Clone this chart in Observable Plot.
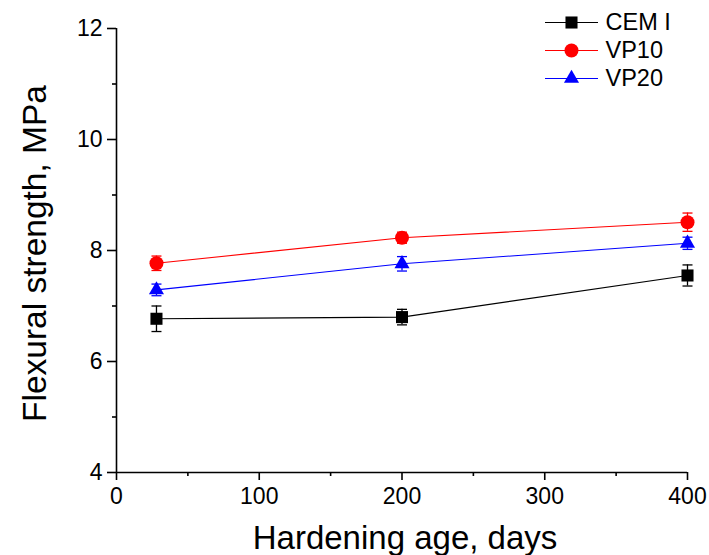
<!DOCTYPE html>
<html>
<head>
<meta charset="utf-8">
<script src="https://cdn.jsdelivr.net/npm/d3@7"></script>
<script src="https://cdn.jsdelivr.net/npm/@observablehq/plot@0.6"></script>
<style>
  html, body { margin: 0; padding: 0; background: #fff; }
  #chart svg { display: block; }
</style>
</head>
<body>
<div id="chart"></div>
<script>
// Hardening age (days) at which flexural strength was measured
const ages = [28, 200, 400];

// Mean flexural strength (MPa) and standard deviation per mix
const seriesNames = ["CEM I", "VP10", "VP20"];
const cemI = [6.77, 6.80, 7.55];
const cemIErr = [0.23, 0.14, 0.19];
const vp10 = [7.77, 8.23, 8.51];
const vp10Err = [0.13, 0.10, 0.165];
const vp20 = [7.29, 7.76, 8.13];
const vp20Err = [0.105, 0.13, 0.11];

// Axis ticks
const xTicks = [0, 100, 200, 300, 400];
const xMinor = [50, 150, 250, 350];
const yTicks = [4, 6, 8, 10, 12];
const yMinor = [5, 7, 9, 11];

const styles = [
  {color: "#000000", symbol: "square", r: 6.8},
  {color: "#ff0000", symbol: "circle", r: 7},
  {color: "#0000ff", symbol: "triangle", r: 5.6}
];

const values = [cemI, vp10, vp20];
const errors = [cemIErr, vp10Err, vp20Err];
const rows = seriesNames.flatMap((name, i) =>
  ages.map((age, j) => ({series: name, i, age, y: values[i][j], err: errors[i][j]}))
);

// Horizontal stroke used for error-bar caps and legend lines
const hline = (half) => ({draw(ctx) { ctx.moveTo(-half, 0); ctx.lineTo(half, 0); }});

const marks = [];

// axes
marks.push(Plot.ruleX([0], {strokeWidth: 1.6}));
marks.push(Plot.ruleY([4], {strokeWidth: 1.6}));
marks.push(Plot.axisX({ticks: xTicks, tickSize: 8, tickPadding: 7, fontSize: 23, label: null, strokeWidth: 1.6}));
marks.push(Plot.axisX({ticks: xMinor, tickSize: 4, tickFormat: () => "", label: null, strokeWidth: 1.6}));
marks.push(Plot.axisY({ticks: yTicks, tickSize: 9, tickPadding: 5, fontSize: 23, label: null, strokeWidth: 1.6}));
marks.push(Plot.axisY({ticks: yMinor, tickSize: 4, tickFormat: () => "", label: null, strokeWidth: 1.6}));

// axis titles
marks.push(Plot.text(["Flexural strength, MPa"], {
  frameAnchor: "left", rotate: -90, dx: -81, dy: 3, fontSize: 33.5, fill: "#000",
  textAnchor: "middle", lineAnchor: "middle"
}));
marks.push(Plot.text(["Hardening age, days"], {
  frameAnchor: "bottom", dx: 3, dy: 66, fontSize: 33, fill: "#000",
  textAnchor: "middle", lineAnchor: "middle"
}));

seriesNames.forEach((name, i) => {
  const data = rows.filter(d => d.series === name);
  const st = styles[i];
  marks.push(Plot.line(data, {x: "age", y: "y", stroke: st.color, strokeWidth: 1.1}));
  marks.push(Plot.ruleX(data, {x: "age", y1: d => d.y - d.err, y2: d => d.y + d.err, stroke: st.color, strokeWidth: 1.3}));
  marks.push(Plot.dot(data, {x: "age", y: d => d.y - d.err, symbol: hline(5), stroke: st.color, strokeWidth: 1.3, fill: "none"}));
  marks.push(Plot.dot(data, {x: "age", y: d => d.y + d.err, symbol: hline(5), stroke: st.color, strokeWidth: 1.3, fill: "none"}));
  marks.push(Plot.dot(data, {x: "age", y: "y", symbol: st.symbol, r: st.r, fill: st.color, stroke: "none"}));

  // legend entry
  const dy = -6 + i * 28;
  marks.push(Plot.dot([name], {frameAnchor: "top-right", dx: -116, dy, symbol: hline(26.5), stroke: st.color, strokeWidth: 1.1, fill: "none"}));
  marks.push(Plot.dot([name], {frameAnchor: "top-right", dx: -116, dy, symbol: st.symbol, r: st.r, fill: st.color, stroke: "none"}));
  marks.push(Plot.text([name], {frameAnchor: "top-right", dx: -82, dy, text: d => d, textAnchor: "start", lineAnchor: "middle", fontSize: 23.5, fill: "#000"}));
});

const chart = Plot.plot({
  width: 709,
  height: 555,
  marginLeft: 116,
  marginRight: 22,
  marginTop: 28,
  marginBottom: 83,
  x: {domain: [0, 400]},
  y: {domain: [4, 12]},
  style: {fontFamily: "'Liberation Sans', Arial, sans-serif", color: "#000", background: "#fff", overflow: "visible"},
  marks
});

document.getElementById("chart").appendChild(chart);
</script>
</body>
</html>
